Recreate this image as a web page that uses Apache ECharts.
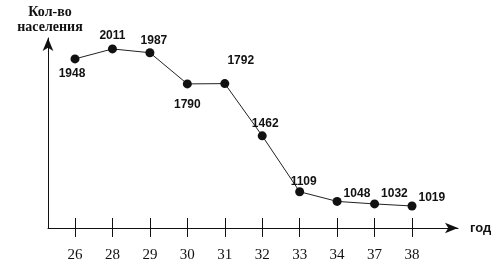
<!DOCTYPE html>
<html><head><meta charset="utf-8">
<script src="https://cdn.jsdelivr.net/npm/echarts@6/dist/echarts.min.js"></script>
<style>html,body{margin:0;padding:0;background:#fff}#c{width:500px;height:265px}</style>
</head><body><div id="c"></div>
<script>
const years = ['26','28','29','30','31','32','33','34','37','38'];
const population = [1948, 2011, 1987, 1790, 1792, 1462, 1109, 1048, 1032, 1019];
const yName = 'Кол-во\nнаселения';
const xName = 'год';

const valFont = '"Liberation Sans",Arial,sans-serif';
const serifFont = '"Liberation Serif","Times New Roman",serif';
function labelFor(i){
  const m = {
    0:{position:'bottom',distance:4,offset:[-3,0]},
    1:{position:'top',distance:3},
    2:{position:'top',distance:2,offset:[4,0]},
    3:{position:'bottom',distance:10},
    4:{position:'top',distance:12,offset:[16,0]},
    5:{position:'top',distance:2,offset:[3,0]},
    6:{position:'top',distance:0,offset:[4,0]},
    7:{position:'right',distance:2,offset:[0,-8]},
    8:{position:'right',distance:2,offset:[0,-10]},
    9:{position:'right',distance:2,offset:[0,-8]}
  };
  return m[i];
}
const chart = echarts.init(document.getElementById('c'), null, {renderer:'canvas'});
const yMin = 880, yMax = 2080;
chart.setOption({
  animation:false,
  backgroundColor:'#fff',
  title:{text:yName, left:45, top:0, textAlign:'center',
    textStyle:{fontFamily:'"Liberation Serif"',fontWeight:'bold',fontSize:14,lineHeight:15,color:'#111'}},
  grid:[
    {left:48,right:42,top:38,bottom:37},
    {left:75,right:88,top:38,bottom:37}
  ],
  xAxis:[
    {gridIndex:0,type:'value',min:0,max:1,
     axisLine:{show:true,lineStyle:{color:'#111',width:1},symbol:['none','arrow'],symbolSize:[8,13]},
     axisTick:{show:false},axisLabel:{show:false},splitLine:{show:false},
     name:xName,nameLocation:'end',nameGap:12,
     nameTextStyle:{fontFamily:valFont,fontWeight:'bold',fontSize:13,color:'#111',verticalAlign:'middle'}},
    {gridIndex:1,type:'category',data:years,boundaryGap:false,
     axisLine:{show:false},
     axisTick:{show:true,inside:false,length:9,lineStyle:{color:'#111',width:1}},
     axisLabel:{show:true,margin:20,fontFamily:serifFont,fontSize:15,color:'#111'},
     splitLine:{show:false}},
    {gridIndex:1,type:'category',data:years,boundaryGap:false,position:'bottom',
     axisLine:{show:false},
     axisTick:{show:true,inside:true,length:10,lineStyle:{color:'#111',width:1}},
     axisLabel:{show:false},splitLine:{show:false}}
  ],
  yAxis:[
    {gridIndex:0,type:'value',min:yMin,max:yMax,
     axisLine:{show:true,lineStyle:{color:'#111',width:1},symbol:['none','arrow'],symbolSize:[8,13]},
     axisTick:{show:false},axisLabel:{show:false},splitLine:{show:false}},
    {gridIndex:1,type:'value',min:yMin,max:yMax,show:false}
  ],
  series:[{
    type:'line',xAxisIndex:1,yAxisIndex:1,clip:false,
    data:population.map((v,i)=>({value:v,label:labelFor(i)})),
    symbol:'circle',symbolSize:9,
    itemStyle:{color:'#111'},
    lineStyle:{color:'#222',width:1},
    label:{show:true,fontFamily:valFont,fontWeight:'bold',fontSize:12,color:'#111'}
  }]
});
</script></body></html>
